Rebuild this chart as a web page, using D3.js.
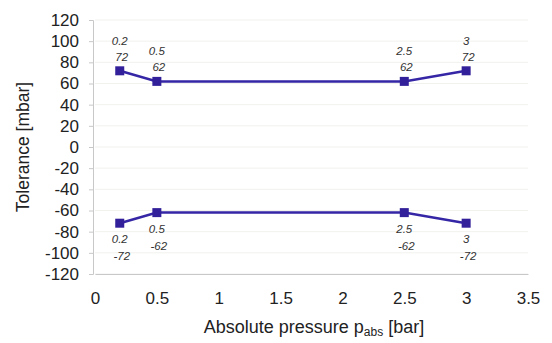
<!DOCTYPE html>
<html>
<head>
<meta charset="utf-8">
<script src="https://cdn.jsdelivr.net/npm/d3@7"></script>
<style>
  html, body { margin: 0; padding: 0; background: #fff; }
  svg { display: block; }
  text { font-family: "Liberation Sans", Arial, sans-serif; }
</style>
</head>
<body>
<svg id="chart" width="552" height="343"></svg>
<script>
// Tolerance band vs. absolute pressure
const pressure = [0.2, 0.5, 2.5, 3];
const upperTol = [72, 62, 62, 72];
const lowerTol = [-72, -62, -62, -72];
const xTicks = [0, 0.5, 1, 1.5, 2, 2.5, 3, 3.5];
const yTicks = [120, 100, 80, 60, 40, 20, 0, -20, -40, -60, -80, -100, -120];

const svg = d3.select("#chart");
const margin = { left: 95, right: 24, top: 20, bottom: 69 };
const W = 552, H = 343;

const x = d3.scaleLinear().domain([0, 3.5]).range([margin.left, W - margin.right]);
const y = d3.scaleLinear().domain([-120, 120]).range([H - margin.bottom, margin.top]);

// faint horizontal gridlines
svg.append("g").selectAll("line").data(yTicks).join("line")
  .attr("x1", x(0)).attr("x2", x(3.5))
  .attr("y1", d => y(d)).attr("y2", d => y(d))
  .attr("stroke", "#f1f1ee").attr("stroke-width", 1);

// y axis
const yAxis = svg.append("g").attr("transform", `translate(${x(0) - 2},0)`)
  .call(d3.axisLeft(y).tickValues(yTicks).tickSize(4).tickPadding(10).tickFormat(d => String(d)));
yAxis.select(".domain").attr("stroke", "#c8c8c8");
yAxis.selectAll(".tick line").attr("stroke", "#c8c8c8");
yAxis.selectAll("text").attr("font-size", 17).attr("fill", "#222")
  .style("font-family", "'Liberation Sans', Arial, sans-serif");

// x axis
const xAxis = svg.append("g").attr("transform", `translate(0,${y(-120)})`)
  .call(d3.axisBottom(x).tickValues(xTicks).tickSize(0).tickPadding(18).tickFormat(d => String(d)));
xAxis.select(".domain").attr("stroke", "#c8c8c8");
xAxis.selectAll("text").attr("font-size", 17).attr("fill", "#222")
  .style("font-family", "'Liberation Sans', Arial, sans-serif");

// axis titles
svg.append("text")
  .attr("transform", `translate(29,${(y(120) + y(-120)) / 2}) rotate(-90)`)
  .attr("text-anchor", "middle").attr("font-size", 17.5).attr("fill", "#222")
  .text("Tolerance [mbar]");

const xt = svg.append("text")
  .attr("x", 314).attr("y", 333)
  .attr("text-anchor", "middle").attr("font-size", 18).attr("fill", "#222");
xt.append("tspan").text("Absolute pressure p");
xt.append("tspan").attr("font-size", 12).attr("dy", 3).text("abs");
xt.append("tspan").attr("dy", -3).text(" [bar]");

const lineColor = "#3526a6";
const line = d3.line().x(d => x(d[0])).y(d => y(d[1]));

function drawSeries(values, above) {
  const pts = pressure.map((p, i) => [p, values[i]]);
  svg.append("path").datum(pts)
    .attr("d", line).attr("fill", "none")
    .attr("stroke", lineColor).attr("stroke-width", 2.5);
  svg.append("g").selectAll("rect").data(pts).join("rect")
    .attr("x", d => x(d[0]) - 4.5).attr("y", d => y(d[1]) - 4.5)
    .attr("width", 9).attr("height", 9)
    .attr("fill", "#32209a");
  const lab = svg.append("g").selectAll("text").data(pts).join("text")
    .attr("text-anchor", "middle").attr("font-size", 11.5).attr("font-style", "italic")
    .attr("fill", "#333");
  lab.append("tspan")
    .attr("x", d => x(d[0]))
    .attr("y", d => y(d[1]) + (above ? -26 : 20))
    .text(d => String(d[0]));
  lab.append("tspan")
    .attr("x", d => x(d[0]) + 2)
    .attr("y", d => y(d[1]) + (above ? -10 : 37))
    .text(d => String(d[1]));
}

drawSeries(upperTol, true);
drawSeries(lowerTol, false);
</script>
</body>
</html>
